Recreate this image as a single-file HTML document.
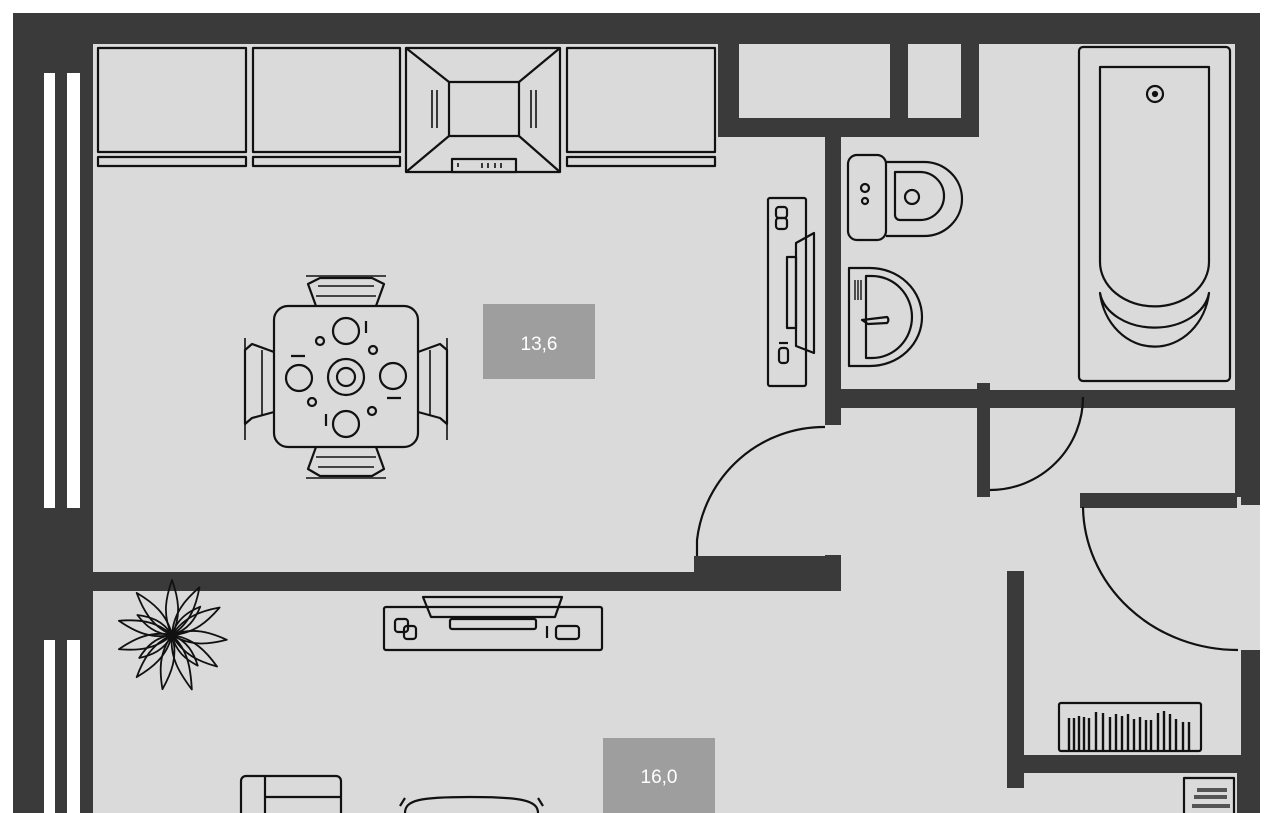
<!DOCTYPE html>
<html><head><meta charset="utf-8"><style>
html,body{margin:0;padding:0;background:#fff;}
svg{display:block}
text{font-family:"Liberation Sans",sans-serif;}
</style></head><body>
<svg width="1280" height="813" viewBox="0 0 1280 813" xmlns="http://www.w3.org/2000/svg">
<rect x="0" y="0" width="1280" height="813" fill="#fff"/>
<rect x="13" y="13" width="1247" height="800" fill="#3a3a3a"/>
<g fill="#dadada">
<rect x="93" y="44" width="732" height="528"/>
<rect x="825" y="425" width="16" height="130"/>
<rect x="841" y="137" width="140" height="252"/>
<rect x="979" y="44" width="256" height="346"/>
<rect x="1083" y="408" width="152" height="85"/>
<rect x="841" y="408" width="136" height="164"/>
<rect x="990" y="408" width="93" height="100"/>
<rect x="841" y="497" width="400" height="258"/>
<rect x="93" y="590" width="914" height="223"/>
<rect x="1007" y="788" width="230" height="25"/>
<rect x="1024" y="773" width="213" height="40"/>
</g>
<!-- top dark block with small closets -->
<rect x="718" y="44" width="261" height="93" fill="#3a3a3a"/>
<rect x="739" y="44" width="151" height="74" fill="#dadada"/>
<rect x="908" y="44" width="53" height="74" fill="#dadada"/>
<rect x="825" y="137" width="16" height="288" fill="#3a3a3a"/>
<rect x="694" y="556" width="147" height="17" fill="#3a3a3a"/>
<rect x="93" y="573" width="748" height="18" fill="#3a3a3a"/>
<rect x="841" y="572" width="166" height="18" fill="#dadada"/>
<rect x="1007" y="571" width="17" height="217" fill="#3a3a3a"/>
<rect x="1024" y="755" width="213" height="18" fill="#3a3a3a"/>
<rect x="1080" y="493" width="157" height="15" fill="#3a3a3a"/>
<rect x="977" y="383" width="13" height="114" fill="#3a3a3a"/>
<rect x="841" y="389" width="136" height="19" fill="#3a3a3a"/>
<rect x="1083" y="390" width="152" height="18" fill="#3a3a3a"/>
<rect x="1237" y="505" width="23" height="145" fill="#dadada"/>
<g fill="#fff">
<rect x="44" y="73" width="11" height="435"/>
<rect x="67" y="73" width="13" height="435"/>
<rect x="44" y="640" width="11" height="173"/>
<rect x="67" y="640" width="13" height="173"/>
</g>
<g fill="none" stroke="#111" stroke-width="2.2" stroke-linejoin="round">
<rect x="98" y="48" width="148" height="104"/><rect x="98" y="157" width="148" height="9"/>
<rect x="253" y="48" width="147" height="104"/><rect x="253" y="157" width="147" height="9"/>
<rect x="567" y="48" width="148" height="104"/><rect x="567" y="157" width="148" height="9"/>
<rect x="406" y="48" width="154" height="124"/>
<rect x="449" y="82" width="70" height="54"/>
<path d="M406,48 L449,82 M560,48 L519,82 M406,172 L449,136 M560,172 L519,136"/>
<path d="M432,90 V128 M437,90 V128 M531,90 V128 M536,90 V128" stroke-width="1.6"/>
<rect x="452" y="159" width="64" height="13" fill="#dadada"/>
<path d="M458,163 v4 M482,163 v5 M488,163 v5 M495,163 v5 M501,163 v5" stroke-width="1.6"/>
<rect x="274" y="306" width="144" height="141" rx="14"/>
<path d="M316,306 L308,284 L320,278 H372 L384,284 L376,306"/><path d="M306,276 H386 M318,286 H374 M316,296 H376" stroke-width="1.6"/>
<path d="M316,447 L308,469 L320,476 H372 L384,469 L376,447"/><path d="M306,478 H386 M318,467 H374 M316,457 H376" stroke-width="1.6"/>
<path d="M274,352 L252,344 L245,350 V424 L252,418 L274,412"/><path d="M245,338 V440 M262,350 V416" stroke-width="1.6"/>
<path d="M418,352 L440,344 L447,350 V424 L440,418 L418,412"/><path d="M447,338 V440 M430,350 V416" stroke-width="1.6"/>
<circle cx="346" cy="331" r="13"/><circle cx="346" cy="424" r="13"/>
<circle cx="299" cy="378" r="13"/><circle cx="393" cy="376" r="13"/>
<circle cx="346" cy="377" r="18"/><circle cx="346" cy="377" r="9"/>
<circle cx="320" cy="341" r="4"/><circle cx="373" cy="350" r="4"/><circle cx="312" cy="402" r="4"/><circle cx="372" cy="411" r="4"/>
<path d="M366,321 v12 M326,414 v12 M291,356 h14 M387,398 h14"/>
<rect x="768" y="198" width="38" height="188" rx="2"/>
<rect x="776" y="207" width="11" height="11" rx="3"/><rect x="776" y="218" width="11" height="11" rx="3"/>
<path d="M796,243 L814,233 V353 L796,346 Z"/>
<rect x="787" y="257" width="9" height="71"/>
<path d="M779,343 h9"/><rect x="779" y="348" width="9" height="15" rx="3"/>
<rect x="848" y="155" width="38" height="85" rx="9"/>
<path d="M886,162 H924 A38,37 0 0 1 924,236 H886"/>
<path d="M895,172 H920 A24,24 0 0 1 920,220 H900 A5,5 0 0 1 895,215 Z"/>
<circle cx="912" cy="197" r="7"/>
<circle cx="865" cy="188" r="4"/><circle cx="865" cy="201" r="3"/>
<path d="M849,268 H870 A52,49 0 0 1 870,366 H849 Z"/>
<path d="M866,276 H872 A40,41 0 0 1 872,358 H866 Z"/>
<path d="M855,280 v20 M858,280 v20 M861,280 v20" stroke-width="1.4"/>
<path d="M862,320 L887,317 A4,4 0 0 1 887,323 L868,324 Z"/>
<rect x="1079" y="47" width="151" height="334" rx="4"/>
<path d="M1100,67 H1209 V262 A54,44 0 0 1 1100,262 Z"/>
<path d="M1100,293 A55,40 0 0 0 1209,293 A55,62 0 0 1 1100,293 Z"/>
<circle cx="1155" cy="94" r="8"/><circle cx="1155" cy="94" r="2" fill="#111"/>
<path d="M697,556 V540 A128,128 0 0 1 825,427"/>
<path d="M990,490 A93,93 0 0 0 1083,397"/>
<path d="M1083,507 A155,145 0 0 0 1238,650"/>
<rect x="384" y="607" width="218" height="43" rx="2"/>
<path d="M423,597 H562 L555,617 H431 Z"/>
<rect x="450" y="619" width="86" height="10" rx="2"/>
<rect x="395" y="619" width="13" height="13" rx="3"/><rect x="404" y="626" width="12" height="13" rx="3"/>
<path d="M547,626 v12"/><rect x="556" y="626" width="23" height="13" rx="3"/>
<g transform="translate(172,635)" stroke-width="1.8">
<path d="M0,0 C-10,-20 -6,-38 0,-55 C6,-38 10,-20 0,0 Z" transform="rotate(0)"/>
<path d="M0,0 C-10,-20 -6,-38 0,-55 C6,-38 10,-20 0,0 Z" transform="rotate(30)"/>
<path d="M0,0 C-10,-20 -6,-38 0,-55 C6,-38 10,-20 0,0 Z" transform="rotate(60)"/>
<path d="M0,0 C-10,-20 -6,-38 0,-55 C6,-38 10,-20 0,0 Z" transform="rotate(95)"/>
<path d="M0,0 C-10,-20 -6,-38 0,-55 C6,-38 10,-20 0,0 Z" transform="rotate(125)"/>
<path d="M0,0 C-10,-20 -6,-38 0,-58 C6,-38 10,-20 0,0 Z" transform="rotate(160)"/>
<path d="M0,0 C-10,-20 -6,-38 0,-55 C6,-38 10,-20 0,0 Z" transform="rotate(190)"/>
<path d="M0,0 C-10,-20 -6,-38 0,-55 C6,-38 10,-20 0,0 Z" transform="rotate(220)"/>
<path d="M0,0 C-10,-20 -6,-38 0,-55 C6,-38 10,-20 0,0 Z" transform="rotate(255)"/>
<path d="M0,0 C-10,-20 -6,-38 0,-55 C6,-38 10,-20 0,0 Z" transform="rotate(285)"/>
<path d="M0,0 C-10,-20 -6,-38 0,-55 C6,-38 10,-20 0,0 Z" transform="rotate(320)"/>
<path d="M0,0 C-8,-15 -5,-28 0,-40 C5,-28 8,-15 0,0 Z" transform="rotate(45)"/>
<path d="M0,0 C-8,-15 -5,-28 0,-40 C5,-28 8,-15 0,0 Z" transform="rotate(140)"/>
<path d="M0,0 C-8,-15 -5,-28 0,-40 C5,-28 8,-15 0,0 Z" transform="rotate(235)"/>
<path d="M0,0 C-8,-15 -5,-28 0,-40 C5,-28 8,-15 0,0 Z" transform="rotate(300)"/>
</g>
<rect x="241" y="776" width="100" height="50" rx="5"/>
<path d="M265,776 V813 M265,797 H341"/>
<path d="M405,813 C405,800 420,797 470,797 C520,797 538,800 538,813"/>
<path d="M400,806 l5,-8 M543,806 l-5,-8"/>
<rect x="1059" y="703" width="142" height="48" rx="2"/>
<path d="M1069,718 V750 M1074,718 V750 M1079,716 V750 M1084,717 V750 M1089,718 V750 M1096,712 V750 M1103,713 V750 M1110,717 V750 M1116,714 V750 M1122,716 V750 M1128,714 V750 M1134,719 V750 M1140,717 V750 M1146,720 V750 M1151,720 V750 M1158,713 V750 M1164,711 V750 M1170,714 V750 M1176,719 V750 M1183,722 V750 M1189,722 V750" stroke-width="2.4"/>
<rect x="1184" y="778" width="50" height="40"/>
<path d="M1197,790 h30 M1194,797 h33 M1192,806 h38" stroke-width="4" stroke="#555"/>
</g>
<rect x="483" y="304" width="112" height="75" fill="#9e9e9e"/>
<text x="539" y="350" font-size="19" fill="#fff" text-anchor="middle">13,6</text>
<rect x="603" y="738" width="112" height="75" fill="#9e9e9e"/>
<text x="659" y="783" font-size="19" fill="#fff" text-anchor="middle">16,0</text>
</svg>
</body></html>
